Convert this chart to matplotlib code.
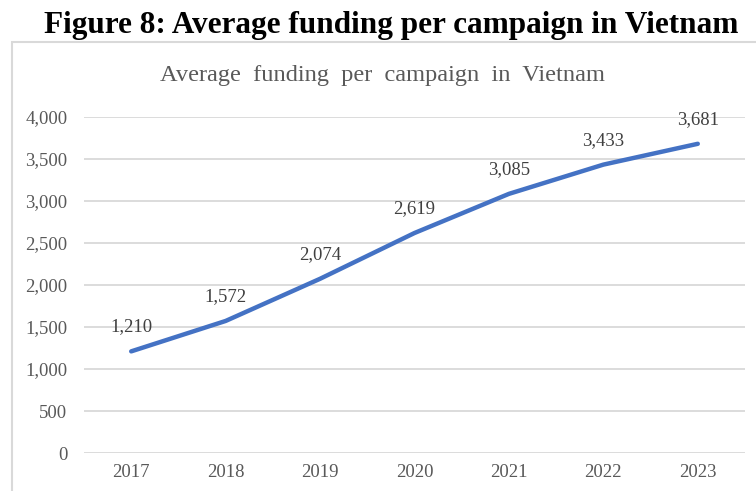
import matplotlib.pyplot as plt
from matplotlib.patches import Rectangle

# average funding per campaign, by year
years = ['2017', '2018', '2019', '2020', '2021', '2022', '2023']
funding = [1210, 1572, 2074, 2619, 3085, 3433, 3681]
yticks = [0, 500, 1000, 1500, 2000, 2500, 3000, 3500, 4000]

W, H = 756, 491
fig = plt.figure(figsize=(W / 100, H / 100), dpi=100)

# chart frame (right and bottom edges run off the page)
fig.patches.append(Rectangle((12 / W, -0.05), 1.0, (H - 42) / H + 0.05,
                             transform=fig.transFigure, fill=False,
                             edgecolor='#D9D9D9', linewidth=1.5))

fig.text(0.518, 1 - 25 / H, 'Figure 8: Average funding per campaign in Vietnam',
         ha='center', va='center', fontsize=22.5, fontweight='bold',
         family='Liberation Serif', color='black')
fig.text(0.506, 1 - 75 / H, 'Average  funding  per  campaign  in  Vietnam',
         ha='center', va='center', fontsize=17.6, family='Liberation Serif',
         color='#595959')

ax = fig.add_axes([84 / W, 38 / H, 661 / W, 336 / H])
x = list(range(len(years)))
ax.plot(x, funding, color='#4472C4', linewidth=3.2, solid_capstyle='round')

for xi, v in zip(x, funding):
    ax.annotate(f'{v:,}', (xi, v), xytext=(0, 17.5), textcoords='offset points',
                ha='center', va='center', fontsize=13.5, family='Liberation Serif',
                color='#404040')

ax.set_xlim(-0.5, len(years) - 0.5)
ax.set_ylim(0, 4000)
ax.set_xticks(x)
ax.set_xticklabels(years)
ax.set_yticks(yticks)
ax.set_yticklabels([f'{t:,}' for t in yticks])
ax.tick_params(length=0, labelsize=13.5, labelcolor='#595959')
for lab in ax.get_xticklabels() + ax.get_yticklabels():
    lab.set_family('Liberation Serif')
ax.yaxis.set_tick_params(pad=12)
ax.xaxis.set_tick_params(pad=8)

ax.grid(axis='y', color='#D9D9D9', linewidth=1.3)
ax.set_axisbelow(True)
for s in ax.spines.values():
    s.set_visible(False)

fig.savefig('out.png', dpi=100)
